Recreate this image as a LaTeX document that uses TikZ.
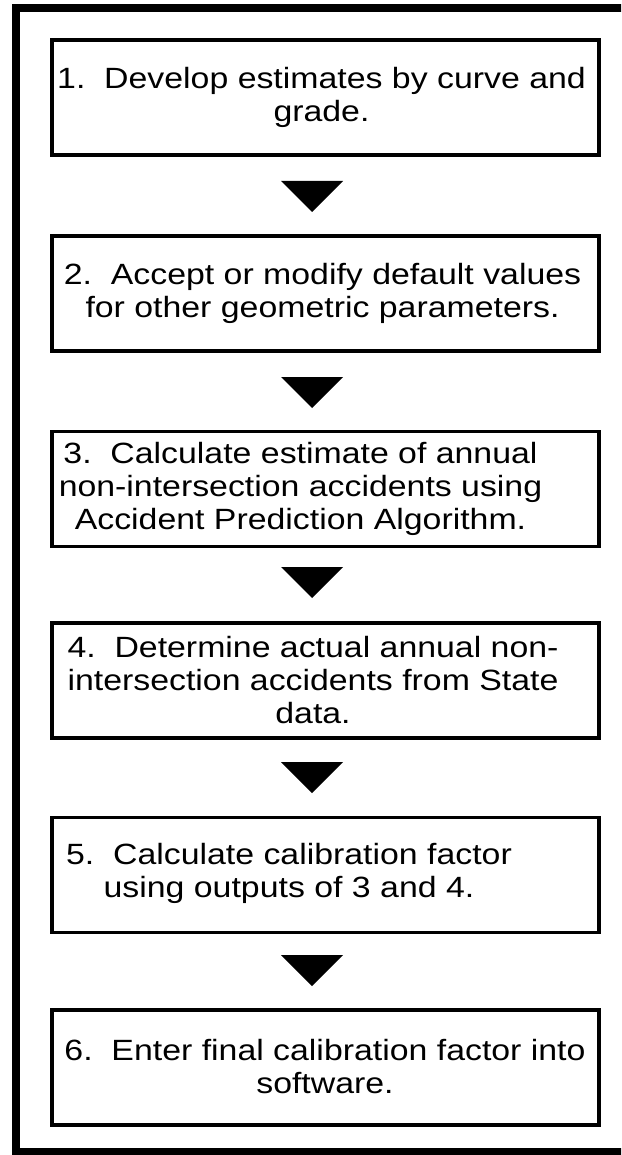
\documentclass[tikz,border=0pt]{standalone}
\usepackage{fontspec}
\setmainfont[FakeStretch=1.155]{Liberation Sans}
\begin{document}
\begin{tikzpicture}[x=1pt,y=-1pt,
  stepbox/.style={draw, line width=3.8pt, minimum width=547pt, minimum height=115pt, inner sep=0pt},
  steptext/.style={align=center, font=\fontsize{29.3}{33}\selectfont, inner sep=0pt},
  tri/.style={fill=black}]
\useasboundingbox (0,0) rectangle (621,1155);
\clip (0,0) rectangle (621,1155);
% outer frame (right side runs off the picture)
\draw[line width=8pt] (16,8) rectangle (640,1151.5);
% boxes
\node[stepbox] (b1) at (325.5,97.5) {};
\node[stepbox] (b2) at (325.5,293.75) {};
\node[stepbox] (b3) at (325.5,489) {};
\node[stepbox] (b4) at (325.5,680.5) {};
\node[stepbox] (b5) at (325.5,875) {};
\node[stepbox] (b6) at (325.5,1067.75) {};
% texts
\node[steptext] (s1) at (321.5,97.5) {1.~~Develop estimates by curve and\\grade.};
\node[steptext] (s2) at (322.5,293.75) {2.~~Accept or modify default values\\for other geometric parameters.};
\node[steptext] (s3) at (300.5,489) {3.~~Calculate estimate of annual\\non-intersection accidents using\\Accident Prediction Algorithm.};
\node[steptext] (s4) at (313,680.5) {4.~~Determine actual annual non-\\intersection accidents from State\\data.};
\node[steptext] (s5) at (289,873) {5.~~Calculate calibration factor\\using outputs of 3 and 4.};
\node[steptext] (s6) at (325,1067) {6.~~Enter final calibration factor into\\software.};
% arrow heads between boxes
\coordinate (a1) at (312,181);
\coordinate (a2) at (312,377);
\coordinate (a3) at (312,567);
\coordinate (a4) at (312,762);
\coordinate (a5) at (312,955);
\foreach \a in {a1,a2,a3,a4,a5}
  \fill[tri] (\a) ++(-31,0) -- ++(62,0) -- ++(-31,31) -- cycle;
\end{tikzpicture}
\end{document}
